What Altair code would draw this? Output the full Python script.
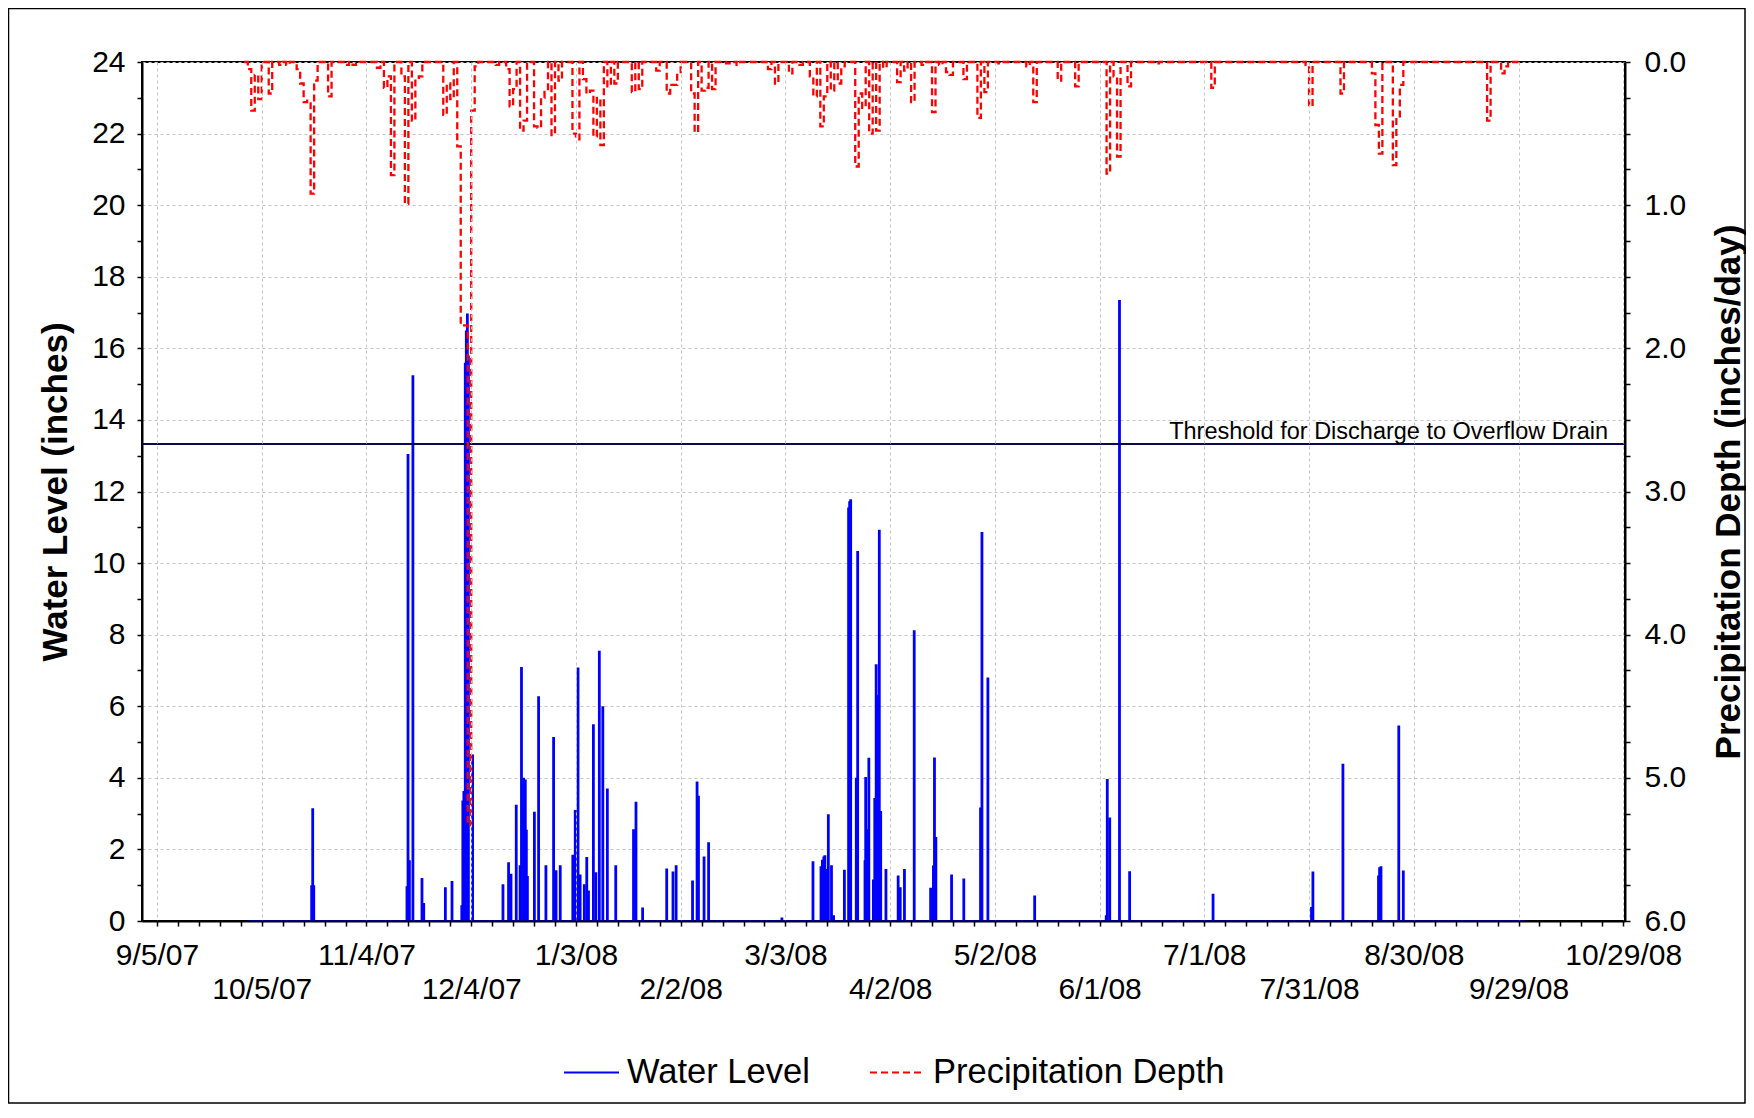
import altair as alt
import pandas as pd

DAY0 = "2007-09-05"  # day offsets below are counted from 9/5/07

# Water level spikes: (day offset, water level in inches)
water_level = [
    (44.3, 1.0), (44.6, 3.15), (44.9, 1.0), (71.6, 0.97), (71.9, 13.05), (72.3, 1.7),
    (73.3, 15.25), (75.9, 1.2), (76.4, 0.5), (82.6, 0.94), (84.5, 1.12), (87.3, 0.44),
    (87.6, 3.37), (87.9, 3.63), (88.3, 15.6), (88.6, 16.5), (88.9, 16.97), (89.2, 15.8),
    (90.4, 4.65), (99.1, 1.03), (100.7, 1.64), (101.4, 1.32), (102.9, 3.25), (104.0, 1.56),
    (104.4, 7.1), (105.0, 4.0), (105.5, 3.95), (105.8, 2.55), (106.1, 1.26), (108.1, 3.05),
    (109.3, 6.28), (111.4, 1.56), (113.6, 5.14), (114.3, 1.42), (115.5, 1.56), (119.1, 1.85),
    (119.8, 3.1), (120.6, 7.08), (121.2, 1.3), (122.4, 1.03), (123.1, 1.79), (123.6, 0.85),
    (125.0, 5.5), (125.7, 1.36), (126.7, 7.55), (127.7, 6.0), (129.0, 3.7), (131.4, 1.56),
    (136.5, 2.56), (137.2, 3.33), (139.1, 0.38), (146.0, 1.47), (147.8, 1.38), (148.7, 1.56),
    (153.4, 1.13), (154.7, 3.9), (155.1, 3.5), (156.7, 1.8), (158.0, 2.2), (179.0, 0.1),
    (187.9, 1.67), (190.2, 1.53), (190.6, 1.71), (191.0, 1.8), (191.3, 1.84), (191.7, 1.45),
    (192.3, 2.98), (193.2, 1.56), (193.8, 0.16), (196.9, 1.43), (198.1, 11.55), (198.4, 11.73),
    (198.7, 11.78), (200.3, 4.0), (200.7, 10.34), (202.8, 1.7), (203.0, 4.02), (203.5, 2.56),
    (203.9, 4.56), (205.2, 1.16), (205.6, 3.44), (206.0, 7.17), (206.4, 6.31), (206.9, 10.93),
    (207.3, 3.07), (208.8, 1.45), (212.3, 1.27), (212.9, 0.94), (214.1, 1.45), (216.9, 8.12),
    (221.6, 0.93), (222.1, 0.87), (222.4, 1.55), (222.7, 4.57), (223.1, 2.35), (227.6, 1.3),
    (231.1, 1.19), (235.9, 3.17), (236.3, 10.87), (238.0, 6.8), (251.4, 0.71), (271.9, 0.16),
    (272.2, 3.97), (272.9, 2.89), (275.7, 17.35), (278.6, 1.39), (302.5, 0.76), (330.7, 0.39),
    (331.1, 1.38), (339.7, 4.39), (349.9, 1.27), (350.2, 1.5), (350.6, 1.53), (355.7, 5.46),
    (357.0, 1.41),
]
water_record_days = (26.2, 391.9)  # first / last day of the water level record

# Daily precipitation: (day offset, inches/day); other days of the record are 0
precipitation = [
    (26, 0.05), (27, 0.34), (28, 0.09), (29, 0.26), (32, 0.22), (35, 0.02), (37, 0.02),
    (40, 0.05), (41, 0.15), (42, 0.28), (43, 0.27), (44, 0.92), (45, 0.13), (49, 0.24),
    (54, 0.02), (56, 0.02), (63, 0.04), (65, 0.18), (66, 0.1), (67, 0.79), (70, 0.1),
    (71, 0.99), (73, 0.41), (74, 0.12), (75, 0.1), (82, 0.37), (83, 0.15), (84, 0.26),
    (86, 0.59), (87, 1.84), (88, 1.84), (89, 5.33), (90, 0.34), (91, 0.03), (97, 0.02),
    (100, 0.05), (101, 0.31), (102, 0.19), (104, 0.48), (105, 0.41), (108, 0.45), (109, 0.46),
    (110, 0.25), (111, 0.2), (113, 0.51), (115, 0.13), (119, 0.5), (120, 0.54), (122, 0.12),
    (123, 0.22), (124, 0.2), (125, 0.52), (126, 0.25), (127, 0.58), (129, 0.17), (131, 0.15),
    (136, 0.21), (138, 0.19), (143, 0.06), (146, 0.22), (147, 0.16), (148, 0.16), (149, 0.08),
    (153, 0.22), (154, 0.49), (156, 0.2), (157, 0.18), (159, 0.19), (163, 0.01), (166, 0.02),
    (175, 0.05), (177, 0.15), (181, 0.08), (184, 0.02), (187, 0.1), (188, 0.24), (190, 0.45),
    (191, 0.24), (193, 0.2), (195, 0.15), (196, 0.03), (200, 0.73), (201, 0.22), (202, 0.32),
    (204, 0.5), (206, 0.48), (208, 0.04), (212, 0.14), (214, 0.06), (216, 0.28), (219, 0.02),
    (222, 0.35), (224, 0.02), (226, 0.07), (227, 0.09), (231, 0.12), (235, 0.39), (237, 0.21),
    (241, 0.01), (249, 0.03), (251, 0.28), (258, 0.13), (263, 0.17), (272, 0.78), (274, 0.1),
    (275, 0.66), (278, 0.17), (286, 0.01), (302, 0.18), (329, 0.02), (330, 0.31), (339, 0.22),
    (348, 0.08), (349, 0.44), (350, 0.64), (354, 0.72), (355, 0.39), (356, 0.16), (381, 0.41),
    (385, 0.08), (386, 0.03),
]
precip_record_days = (25, 390)

threshold_level = 13.33
threshold_label = "Threshold for Discharge to Overflow  Drain"
series_names = ["Water Level", "Precipitation Depth"]
series_colors = ["#0000FF", "#FF0000"]

# ---------------------------------------------------------------------------
base = pd.Timestamp(DAY0)


def to_date(d):
    return base + pd.to_timedelta(d, unit="D")


wl_df = pd.DataFrame({
    "date": [to_date(d) for d, _ in water_level],
    "level": [v for _, v in water_level],
    "zero": 0.0,
    "series": series_names[0],
})
wl_base_df = pd.DataFrame({
    "date": [to_date(water_record_days[0])],
    "date2": [to_date(water_record_days[1])],
    "level": [0.0],
    "series": [series_names[0]],
})
pmap = dict(precipitation)
pdays = list(range(precip_record_days[0], precip_record_days[1] + 1))
p_df = pd.DataFrame({
    "date": [to_date(d) for d in pdays],
    "precip": [pmap.get(d, 0.0) for d in pdays],
    "series": series_names[1],
})

W, H = 1483, 859
FONT = "Liberation Sans"

tick_dates = pd.date_range("2007-09-05", "2008-10-29", freq="6D")
tick_values = [alt.DateTime(year=t.year, month=t.month, date=t.day) for t in tick_dates]
dexpr = "round((datum.value - datetime(2007, 8, 5)) / 86400000)"

x_scale = alt.Scale(domain=[
    alt.DateTime(year=2007, month=8, date=31, hours=16, minutes=48),
    alt.DateTime(year=2008, month=10, date=29, hours=12),
])
x_axis = alt.Axis(
    values=tick_values,
    format="%-m/%-d/%y",
    labelExpr=f"({dexpr}) % 30 !== 0 ? '' : ((({dexpr}) % 60 === 0) ? datum.label : ['', datum.label])",
    labelOverlap=False,
    labelFlush=False,
    labelLineHeight=34,
    labelPadding=14,
    labelBaseline="top",
    tickSize=5,
    zindex=1,
    gridOpacity={"condition": {"test": f"({dexpr}) % 30 === 0", "value": 1}, "value": 0},
    title=None,
)
x_enc = alt.X("date:T", scale=x_scale, axis=x_axis)

y_left_scale = alt.Scale(domain=[0, 24], nice=False)
y_left_axis = alt.Axis(
    values=list(range(0, 25)),
    labelExpr="datum.value % 2 === 0 ? datum.label : ''",
    gridOpacity={"condition": {"test": "datum.value % 2 === 0", "value": 1}, "value": 0},
    tickSize=5,
    labelPadding=12,
    title="Water Level (inches)",
    titlePadding=18,
)

legend_def = alt.Legend(
    orient="none", legendX=421, legendY=982, direction="horizontal", title=None,
    symbolType="stroke", symbolSize=3025, symbolStrokeWidth=2,
    labelFontSize=34.5, labelFont=FONT, labelColor="black", labelOffset=7, labelLimit=0,
    columnPadding=56, padding=0,
)
color_enc = alt.Color(
    "series:N",
    scale=alt.Scale(domain=series_names, range=series_colors),
    legend=legend_def,
)
dash_enc = alt.StrokeDash(
    "series:N",
    scale=alt.Scale(domain=series_names, range=[[1, 0], [7, 4]]),
    legend=legend_def,
)

wl_zero = alt.Chart(wl_base_df).mark_rule(strokeWidth=2).encode(
    x=x_enc, x2="date2:T",
    y=alt.Y("level:Q", scale=y_left_scale, axis=y_left_axis),
    color=color_enc, strokeDash=dash_enc,
)
wl_spikes = alt.Chart(wl_df).mark_rule(strokeWidth=2.8).encode(
    x=x_enc,
    y=alt.Y("level:Q", scale=y_left_scale, axis=y_left_axis),
    y2="zero:Q",
    color=color_enc, strokeDash=dash_enc,
)
thr_df = pd.DataFrame({"level": [threshold_level], "label": [threshold_label]})
thr_rule = alt.Chart(thr_df).mark_rule(color="#0A0A50", strokeWidth=2).encode(
    y=alt.Y("level:Q", scale=y_left_scale, axis=y_left_axis),
)
thr_text = alt.Chart(thr_df).mark_text(
    align="right", baseline="alphabetic", dy=-5, fontSize=23.5, font=FONT, color="black",
).encode(
    x=alt.value(W - 17),
    y=alt.Y("level:Q", scale=y_left_scale, axis=y_left_axis),
    text="label:N",
)
frame = alt.Chart(pd.DataFrame({"a": [0]})).mark_rect(
    filled=False, stroke="black", strokeWidth=1.5,
).encode(
    x=alt.value(-133.5), x2=alt.value(W + 120),
    y=alt.value(-53.5), y2=alt.value(H + 182),
)

left = alt.layer(frame, wl_zero, wl_spikes, thr_rule, thr_text)

precip = alt.Chart(p_df).mark_line(interpolate="step-after", strokeWidth=2.3).encode(
    x=x_enc,
    y=alt.Y(
        "precip:Q",
        scale=alt.Scale(domain=[0, 6], reverse=True, nice=False),
        axis=alt.Axis(
            orient="right", values=[i * 0.25 for i in range(25)],
            labelExpr="datum.value % 1 === 0 ? format(datum.value, '.1f') : ''",
            grid=False, tickSize=5, labelPadding=14,
            title="Precipitation Depth (inches/day)", titleAngle=270,
            titleBaseline="top", titlePadding=26,
        ),
    ),
    color=color_enc, strokeDash=dash_enc,
)

chart = alt.layer(left, precip).resolve_scale(y="independent").properties(
    width=W, height=H,
    autosize=alt.AutoSizeParams(type="none"),
    padding={"left": 134, "top": 54, "right": 121, "bottom": 184},
    background="white",
).configure_axis(
    labelFont=FONT, labelFontSize=30, labelColor="black",
    titleFont=FONT, titleFontSize=35, titleFontWeight="bold", titleColor="black",
    domainColor="black", domainWidth=2, tickColor="black", tickWidth=1.5,
    gridColor="#C4C4C4", gridDash=[3, 3], gridWidth=1,
).configure_view(stroke="black", strokeWidth=2)

chart.save("out.html", embed_options={"renderer": "svg", "actions": False})
